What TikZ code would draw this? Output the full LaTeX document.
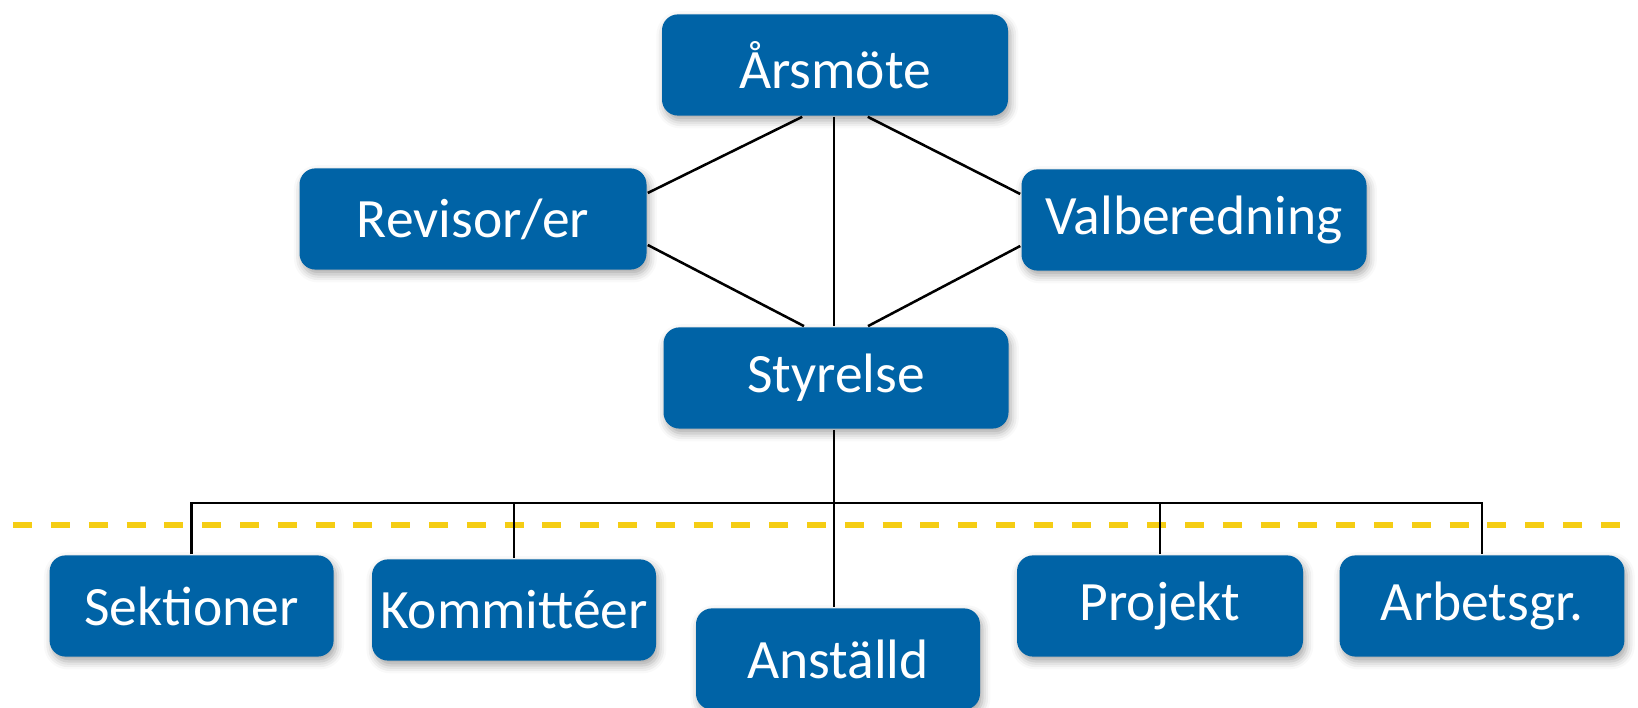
\documentclass[tikz,border=0pt]{standalone}
\usepackage{fontspec}
\setmainfont{Carlito}
\usetikzlibrary{shadows.blur}
\definecolor{boxblue}{RGB}{0,99,166}
\definecolor{dashyellow}{RGB}{245,205,20}
\begin{document}
\begin{tikzpicture}[line width=1.8pt, main/.style = {fill=boxblue, text=white, rounded corners=0.4cm, minimum height=2.53cm, inner sep=0pt, font=\fontsize{39.5}{47}\selectfont, blur shadow={shadow xshift=0.6mm, shadow yshift=-1.2mm, shadow blur radius=2mm, shadow opacity=35}}]
  \useasboundingbox (0,0) rectangle (40.95,17.7);
  \draw[dashyellow, line width=3.6pt, dash pattern=on 0.475cm off 0.47cm] (0.33,4.575) -- (40.95,4.575);
  \node[main, minimum width=8.65cm] (ars) at (20.875,16.075) {Årsmöte};
  \node[main, minimum width=8.675cm] (rev) at (11.825,12.225) {Revisor/er};
  \node[main, minimum width=8.625cm] (val) at (29.85,12.2) {Valberedning};
  \node[main, minimum width=8.625cm] (sty) at (20.9,8.25) {Styrelse};
  \node[main, minimum width=7.1cm] (sek) at (4.79,2.55) {Sektioner};
  \node[main, minimum width=7.1cm] (kom) at (12.85,2.45) {Kommittéer};
  \node[main, minimum width=7.1cm] (ans) at (20.95,1.225) {Anställd};
  \node[main, minimum width=7.15cm] (pro) at (29.0,2.55) {Projekt};
  \node[main, minimum width=7.12cm] (arb) at (37.05,2.55) {Arbetsgr.};
  \coordinate (bus) at (20.85,5.125);
  \draw ([xshift=-0.82cm]ars.south) to ([yshift=0.65cm]rev.east);
  \draw ([xshift=0.82cm]ars.south) to ([yshift=0.65cm]val.west);
  \draw (ars.south -| bus) to (sty.north -| bus);
  \draw ([yshift=-0.65cm]rev.east) to ([xshift=-0.8cm]sty.north);
  \draw ([yshift=-0.65cm]val.west) to ([xshift=0.8cm]sty.north);
  \draw (sty.south -| bus) to (bus) to (ans.north -| bus);
  \draw (sek.north) to (bus -| sek.north) to (bus -| arb.north) to (arb.north);
  \draw (kom.north) to (bus -| kom.north);
  \draw (pro.north) to (bus -| pro.north);
\end{tikzpicture}
\end{document}
